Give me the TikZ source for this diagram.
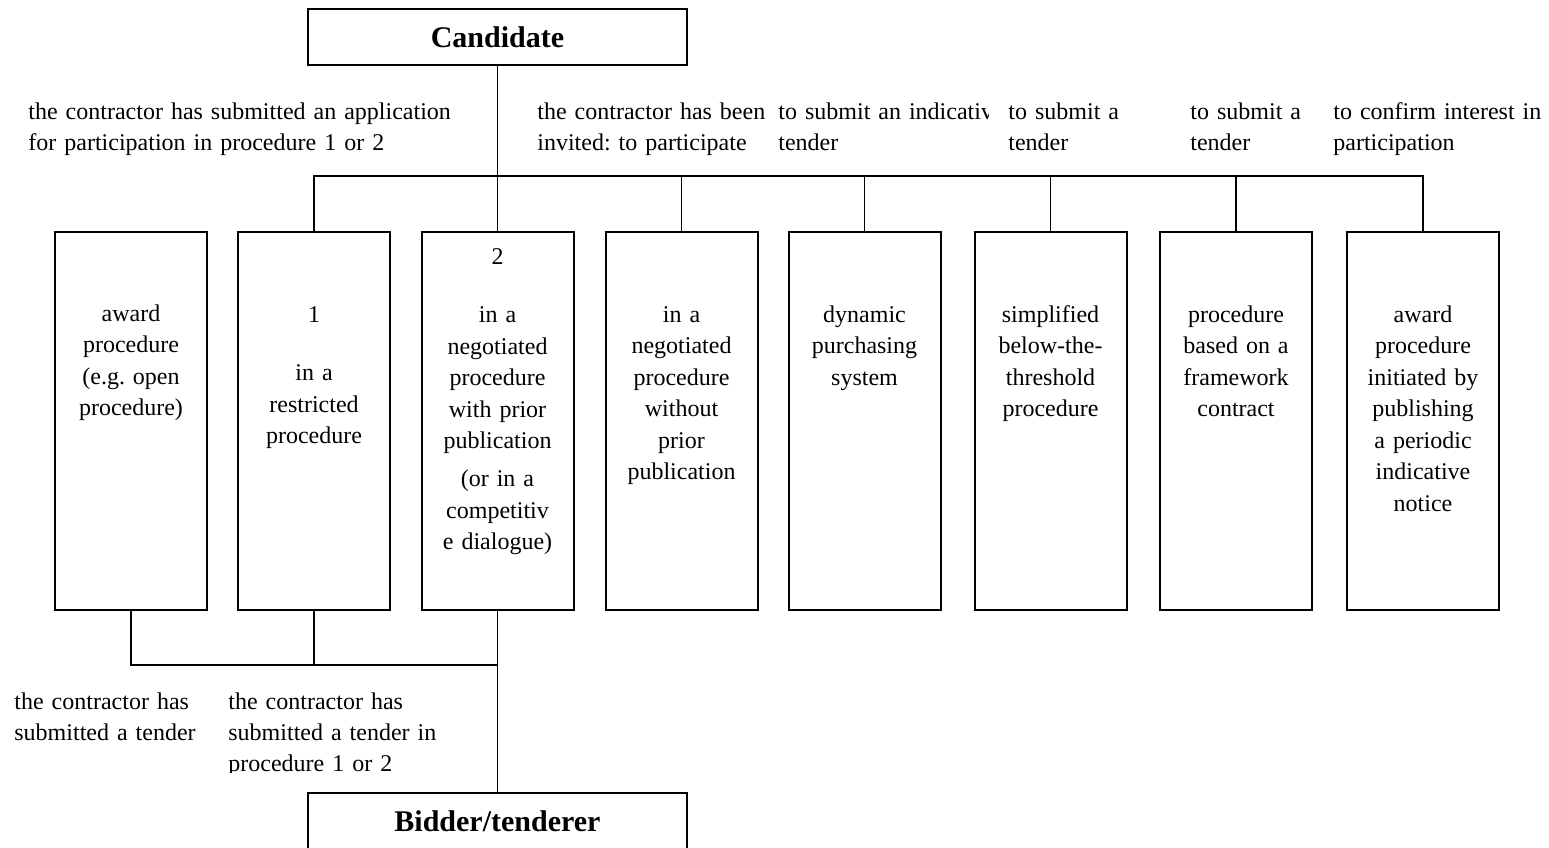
\documentclass[tikz,border=0pt]{standalone}
\usepackage{fontspec}
\setmainfont{Liberation Serif}[WordSpace=0.7]
\frenchspacing
\usetikzlibrary{positioning}
\begin{document}
\begin{tikzpicture}[x=0.5pt,y=-0.5pt,
  every node/.style={inner sep=0pt},
  rolebox/.style={draw,line width=1pt,minimum width=189.5pt,minimum height=28pt,font=\fontsize{15}{18}\selectfont\bfseries},
  procbox/.style={draw,line width=1pt,minimum width=76pt,minimum height=189pt},
  boxtext/.style={anchor=base,text width=74pt,align=center,font=\fontsize{12}{15.75}\selectfont},
  cond/.style={anchor=base west,text width=240pt,align=left,font=\fontsize{12}{15.5}\selectfont},
  link/.style={line width=0.8pt}]
\useasboundingbox (0,0) rectangle (1549,847);
\node[rolebox] (cand) at (497.5,37) {Candidate};
\node[rolebox] (bid) at (497.5,821) {Bidder/tenderer};
\foreach \x [count=\i] in {131,314,497.5,681.5,864.5,1050.5,1236,1423}
  \node[procbox] (p\i) at (\x,421) {};
\coordinate (topbus) at (0,176);
\coordinate (lowbus) at (0,665);
\node[boxtext] (t1) at ([yshift=-45pt]p1.north) {award\\procedure\\(e.g. open\\procedure)};
\node[boxtext] (t2) at ([yshift=-45.5pt]p2.north) {1\\[13.5pt]in a\\restricted\\procedure};
\node[boxtext] (t3) at ([yshift=-16.5pt]p3.north) {2\\[13.5pt]in a\\negotiated\\procedure\\with prior\\publication\\[3.25pt](or in a\\competitiv\\e dialogue)};
\node[boxtext] (t4) at ([yshift=-45.5pt]p4.north) {in a\\negotiated\\procedure\\without\\prior\\publication};
\node[boxtext] (t5) at ([yshift=-45.5pt]p5.north) {dynamic\\purchasing\\system};
\node[boxtext] (t6) at ([yshift=-45.5pt]p6.north) {simplified\\below-the-\\threshold\\procedure};
\node[boxtext] (t7) at ([yshift=-45.5pt]p7.north) {procedure\\based on a\\framework\\contract};
\node[boxtext] (t8) at ([yshift=-45.5pt]p8.north) {award\\procedure\\initiated by\\publishing\\a periodic\\indicative\\notice};
\node[cond] (c1) at (28,119) {the contractor has submitted an application\\for participation in procedure 1 or 2};
\node[cond] (c2) at (537,119) {the contractor has been\\invited: to participate};
\begin{scope}
\clip (770,90) rectangle (988,170);
\node[cond] (c3) at (778,119) {to submit an indicative\\tender};
\end{scope}
\node[cond] (c4) at (1008,119) {to submit a\\tender};
\node[cond] (c5) at (1190,119) {to submit a\\tender};
\node[cond] (c6) at (1333,119) {to confirm interest in\\participation};
\node[cond] (c7) at (14,709) {the contractor has\\submitted a tender};
\begin{scope}
\clip (220,680) rectangle (460,772);
\node[cond] (c8) at (228,709) {the contractor has\\submitted a tender in\\procedure 1 or 2};
\end{scope}
\draw[link] (cand.south) -- (p3.north);
\draw[link] (p2.north) -- (p2.north |- topbus) -- (p8.north |- topbus) -- (p8.north);
\foreach \i in {4,...,7}
  \draw[link] (p\i.north) -- (p\i.north |- topbus);
\draw[link] (p1.south) -- (p1.south |- lowbus) -- (p3.south |- lowbus);
\draw[link] (p2.south) -- (p2.south |- lowbus);
\draw[link] (p3.south) -- (bid.north);
\end{tikzpicture}
\end{document}
